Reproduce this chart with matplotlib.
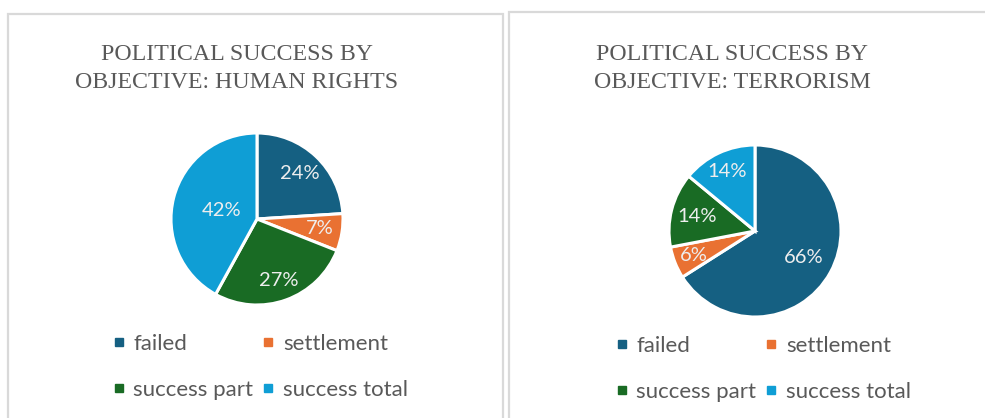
import matplotlib.pyplot as plt
from matplotlib.lines import Line2D
from matplotlib.patches import Rectangle
import numpy as np

categories = ['failed', 'settlement', 'success part', 'success total']
human_rights = [24, 7, 27, 42]
terrorism = [66, 6, 14, 14]
titles = ['POLITICAL SUCCESS BY\nOBJECTIVE: HUMAN RIGHTS',
          'POLITICAL SUCCESS BY\nOBJECTIVE: TERRORISM']

colors = ['#156082', '#E97132', '#196B24', '#0F9ED5']
text_grey = '#595959'

W, H = 985, 418
fig = plt.figure(figsize=(W / 100, H / 100), dpi=100)


def px_box(cx, cy, r):
    # pixel (from top-left) -> figure fraction box for a square axes
    return [(cx - r) / W, 1 - (cy + r) / H, 2 * r / W, 2 * r / H]


def draw_panel(values, title, cx, cy, title_x, label_r, legend_x, legend_y):
    ax = fig.add_axes(px_box(cx, cy, 86))
    wedges, _ = ax.pie(values, colors=colors, startangle=90, counterclock=False,
                       radius=1, wedgeprops=dict(edgecolor='white', linewidth=2.2))
    for w, v, fr in zip(wedges, values, label_r):
        ang = np.deg2rad((w.theta1 + w.theta2) / 2)
        ax.text(fr * np.cos(ang), fr * np.sin(ang), f'{v}%', ha='center', va='center',
                color='#eeeeee', fontsize=14.5, family='Lato')
    ax.set_xlim(-1, 1)
    ax.set_ylim(-1, 1)
    ax.axis('off')

    fig.text(title_x / W, 1 - 68.5 / H, title, ha='center', va='center',
             family='Liberation Serif', fontsize=17.2, color=text_grey, linespacing=1.42)

    handles = [Line2D([], [], marker='s', color=c, linestyle='none', markersize=6)
               for c in colors]
    # legend fills column by column; reorder so rows read left to right
    order = [0, 2, 1, 3]
    fig.legend([handles[i] for i in order], [categories[i] for i in order],
               loc='upper left', ncol=2,
               bbox_to_anchor=(legend_x / W, 1 - legend_y / H), frameon=False,
               prop=dict(family='Lato', size=16), labelcolor=text_grey,
               handlelength=0.42, handletextpad=0.45, columnspacing=0.46,
               labelspacing=1.15, borderpad=0, borderaxespad=0)


# panel borders
fig.patches.append(Rectangle((8 / W, -0.1), (503 - 8) / W, 1.1 - 14 / H,
                             transform=fig.transFigure, fill=False,
                             edgecolor='#d9d9d9', linewidth=1.6))
fig.patches.append(Rectangle((509 / W, -0.1), 0.6, 1.1 - 12 / H,
                             transform=fig.transFigure, fill=False,
                             edgecolor='#d9d9d9', linewidth=1.6))

draw_panel(human_rights, titles[0], 257, 219, 237, [0.72, 0.74, 0.76, 0.42], 114, 334)
draw_panel(terrorism, titles[1], 755, 231, 732, [0.64, 0.76, 0.7, 0.77], 617, 336)

fig.savefig('out.png', dpi=100)
